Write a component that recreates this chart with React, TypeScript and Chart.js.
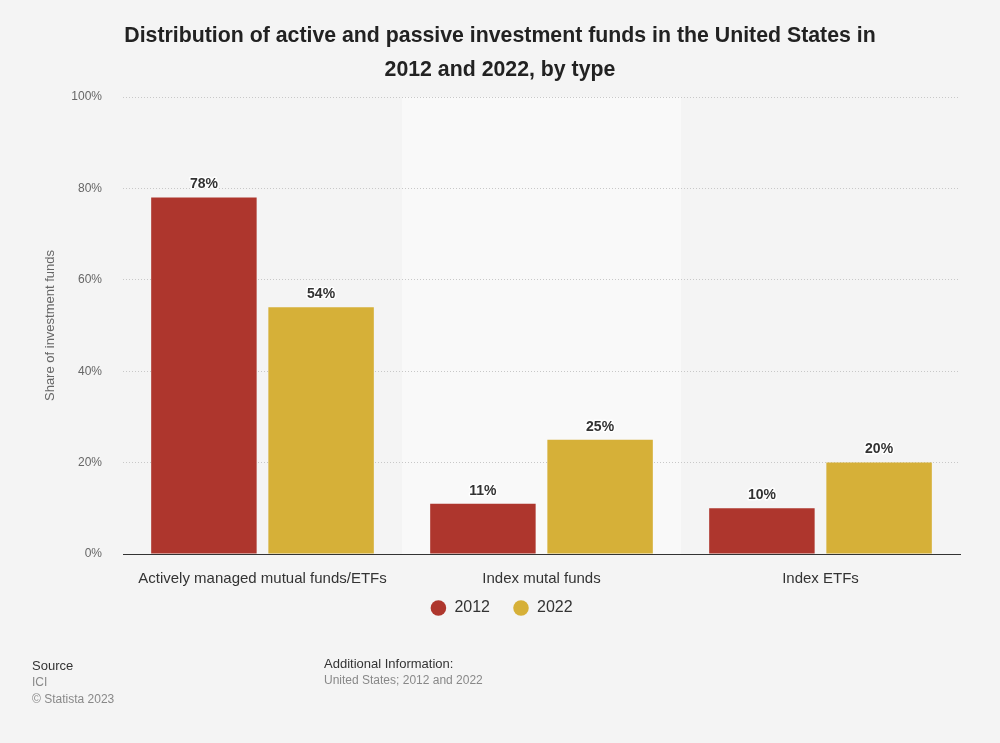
import React, { useEffect, useRef } from "react";
import { Chart, registerables } from "chart.js";

Chart.register(...registerables);

const categories = ["Actively managed mutual funds/ETFs", "Index mutal funds", "Index ETFs"];
const series2012 = [78, 11, 10];
const series2022 = [54, 25, 20];
const seriesNames = ["2012", "2022"];
const yTicks = [0, 20, 40, 60, 80, 100];

const FONT = '"Liberation Sans", Arial, Helvetica, sans-serif';

const bandPlugin = {
  id: "band",
  beforeDraw(chart: any) {
    const { ctx, chartArea, scales } = chart;
    const x = scales.x;
    const w = (chartArea.right - chartArea.left) / categories.length;
    const c = x.getPixelForValue(1);
    ctx.save();
    ctx.fillStyle = "#f9f9f9";
    ctx.fillRect(c - w / 2, chartArea.top, w, chartArea.bottom - chartArea.top);
    ctx.restore();
  },
};

const labelPlugin = {
  id: "valueLabels",
  afterDatasetsDraw(chart: any) {
    const { ctx } = chart;
    ctx.save();
    ctx.font = `bold 14px ${FONT}`;
    ctx.textAlign = "center";
    ctx.textBaseline = "bottom";
    chart.data.datasets.forEach((ds: any, i: number) => {
      const meta = chart.getDatasetMeta(i);
      meta.data.forEach((bar: any, j: number) => {
        const text = ds.data[j] + "%";
        const y = bar.y - 6;
        ctx.lineWidth = 3;
        ctx.strokeStyle = "rgba(255,255,255,0.9)";
        ctx.lineJoin = "round";
        ctx.strokeText(text, bar.x, y);
        ctx.fillStyle = "#333333";
        ctx.fillText(text, bar.x, y);
      });
    });
    ctx.restore();
  },
};

export default function App() {
  const ref = useRef<HTMLCanvasElement | null>(null);

  useEffect(() => {
    document.body.style.margin = "0";
    const chart = new Chart(ref.current as HTMLCanvasElement, {
      type: "bar",
      data: {
        labels: categories,
        datasets: [
          { label: seriesNames[0], data: series2012, backgroundColor: "#ae362d" },
          { label: seriesNames[1], data: series2022, backgroundColor: "#d6b038" },
        ],
      },
      plugins: [bandPlugin, labelPlugin],
      options: {
        animation: false,
        responsive: false,
        devicePixelRatio: 1,
        layout: { padding: { left: 43, right: 40, top: 97, bottom: 117 } },
        datasets: { bar: { categoryPercentage: 0.84, barPercentage: 0.9 } },
        plugins: {
          title: { display: false },
          tooltip: { enabled: false },
          legend: {
            display: true,
            position: "bottom",
            labels: {
              usePointStyle: true,
              pointStyle: "circle",
              boxWidth: 16,
              boxHeight: 11,
              padding: 23,
              color: "#333333",
              font: { family: FONT, size: 16 },
            },
          },
        },
        scales: {
          x: {
            grid: { display: false, drawTicks: false },
            border: { display: true, color: "#333333", width: 1 },
            ticks: { color: "#333333", font: { family: FONT, size: 15 }, padding: 16, maxRotation: 0 },
            afterFit(scale: any) {
              scale.height = 23;
              scale._computeLabelArea = () => undefined;
            },
          },
          y: {
            min: 0,
            max: 100,
            afterBuildTicks(scale: any) {
              scale.ticks = yTicks.map((v) => ({ value: v }));
            },
            grid: { color: "#c8c8c8", drawTicks: false, lineWidth: 1 },
            border: { display: false, dash: [1, 2] },
            ticks: {
              color: "#666666",
              font: { family: FONT, size: 12 },
              padding: 21,
              callback: (v: any) => v + "%",
            },
            title: {
              display: true,
              text: "Share of investment funds",
              color: "#666666",
              font: { family: FONT, size: 13 },
              padding: 0,
            },
            afterFit(scale: any) {
              scale.width = 80;
            },
          },
        },
      },
    } as any);
    return () => chart.destroy();
  }, []);

  const textBase: React.CSSProperties = { position: "absolute", fontFamily: FONT, margin: 0 };

  return (
    <div style={{ position: "relative", width: 1000, height: 743, background: "#f4f4f4", overflow: "hidden" }}>
      <canvas ref={ref} width={1000} height={743} style={{ position: "absolute", left: 0, top: 0, width: 1000, height: 743 }} />
      <div
        style={{
          ...textBase,
          left: 0,
          width: 1000,
          top: 18,
          textAlign: "center",
          fontWeight: "bold",
          fontSize: 21.3,
          lineHeight: "34px",
          color: "#222222",
        }}
      >
        Distribution of active and passive investment funds in the United States in
        <br />
        2012 and 2022, by type
      </div>
      <div style={{ ...textBase, left: 32, top: 657, fontSize: 13, lineHeight: "17px", color: "#333333" }}>
        Source
        <div style={{ color: "#888888", fontSize: 12 }}>ICI</div>
        <div style={{ color: "#888888", fontSize: 12 }}>© Statista 2023</div>
      </div>
      <div style={{ ...textBase, left: 324, top: 655, fontSize: 13, lineHeight: "17px", color: "#333333" }}>
        Additional Information:
        <div style={{ color: "#888888", fontSize: 12 }}>United States; 2012 and 2022</div>
      </div>
    </div>
  );
}
